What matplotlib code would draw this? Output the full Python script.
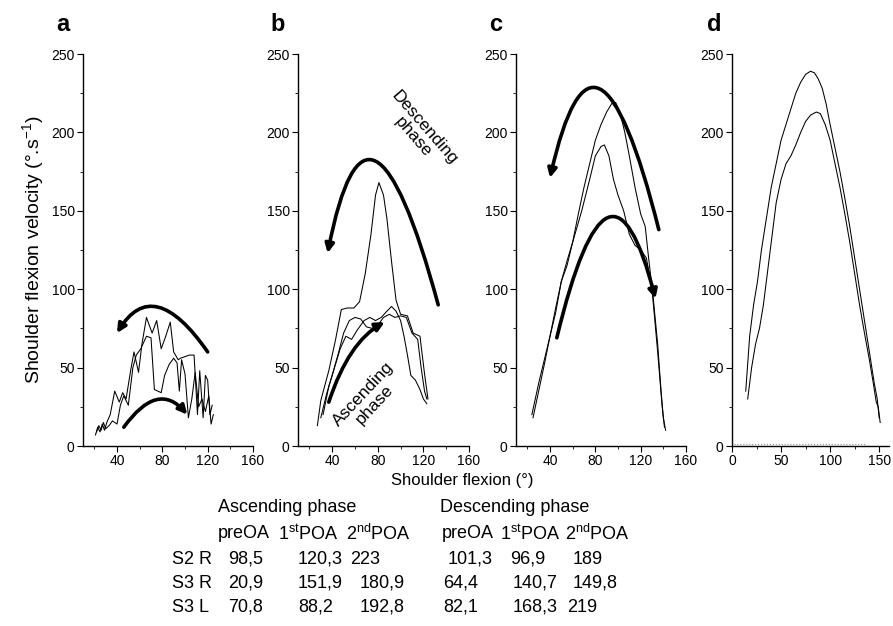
import numpy as np
import matplotlib
matplotlib.use('Agg')
import matplotlib.pyplot as plt
from matplotlib.path import Path
from matplotlib.patches import FancyArrowPatch
from matplotlib.ticker import MultipleLocator

plt.rcParams['font.family'] = ['Liberation Sans', 'DejaVu Sans']
plt.rcParams['mathtext.fontset'] = 'custom'
plt.rcParams['mathtext.rm'] = 'Liberation Sans'
plt.rcParams['mathtext.it'] = 'Liberation Sans:italic'
plt.rcParams['mathtext.bf'] = 'Liberation Sans:bold'

# ---- panel a: noisy curves (shoulder flexion, velocity) ----
a1_x = [21, 23, 25, 27, 29, 31, 34, 38, 42, 45, 48, 52, 55, 59, 62, 66, 71, 75, 79, 83,
        87, 90, 94, 96, 100, 104, 108, 111, 113, 116, 118, 120, 122, 124]
a1_y = [7, 12, 9, 14, 10, 15, 20, 35, 28, 34, 30, 48, 60, 47, 65, 82, 72, 80, 62, 70,
        79, 60, 55, 56, 57, 58, 58, 20, 48, 18, 45, 42, 20, 26]
a2_x = [22, 24, 26, 28, 30, 33, 36, 40, 43, 46, 50, 54, 57, 61, 66, 70, 73, 76, 79, 82,
        86, 90, 93, 95, 97, 100, 103, 106, 109, 112, 115, 118, 121, 123, 125]
a2_y = [9, 13, 10, 15, 11, 13, 16, 14, 26, 32, 26, 50, 58, 62, 70, 69, 36, 35, 34, 45,
        52, 56, 53, 35, 55, 46, 18, 30, 47, 25, 30, 22, 32, 14, 20]

# ---- panel b ----
b1_x = [27, 30, 37, 43, 48, 53, 59, 64, 69, 74, 78, 81, 85, 88, 92, 96, 100, 106, 111, 117, 121, 124]
b1_y = [13, 29, 48, 68, 87, 88, 88, 92, 110, 135, 160, 168, 160, 145, 118, 93, 84, 83, 72, 70, 46, 30]
b2_x = [32, 37, 42, 47, 52, 57, 62, 68, 73, 78, 83, 88, 92, 96, 100, 103, 106, 109, 113, 117, 120, 123]
b2_y = [20, 38, 50, 62, 70, 68, 74, 80, 82, 80, 82, 86, 89, 86, 80, 70, 58, 45, 42, 36, 30, 27]
b3_x = [30, 35, 40, 45, 50, 55, 60, 65, 70, 75, 80, 85, 90, 95, 100, 105, 110, 115, 118, 121, 123]
b3_y = [18, 33, 45, 58, 72, 80, 82, 81, 76, 75, 77, 82, 84, 82, 83, 82, 72, 68, 50, 35, 30]

# ---- panel c ----
c1_x = [24, 30, 36, 40, 45, 50, 55, 60, 65, 70, 75, 80, 85, 90, 95, 98, 102, 106, 110,
        115, 120, 124, 127, 131, 135, 138, 140, 142]
c1_y = [20, 40, 58, 70, 85, 105, 115, 130, 148, 165, 180, 195, 205, 213, 219, 219, 212, 200, 185,
        165, 148, 140, 120, 95, 65, 35, 18, 10]
c2_x = [25, 30, 35, 40, 45, 50, 55, 60, 68, 75, 80, 85, 88, 92, 96, 100, 105, 110, 115,
        120, 125, 130, 135, 139, 141]
c2_y = [18, 35, 52, 70, 88, 105, 118, 130, 150, 170, 185, 191, 192, 185, 170, 160, 150, 135, 128,
        125, 120, 100, 60, 25, 12]

# ---- panel d ----
d1_x = [14, 18, 22, 26, 30, 35, 40, 45, 50, 55, 60, 65, 70, 75, 80, 84, 88, 92, 96, 100,
        105, 110, 115, 120, 125, 130, 135, 140, 145, 148, 150]
d1_y = [35, 70, 90, 105, 125, 145, 165, 180, 195, 205, 215, 225, 232, 237, 239, 238, 234, 228, 218, 205,
        190, 175, 158, 140, 120, 100, 80, 60, 40, 30, 18]
d2_x = [16, 20, 24, 28, 32, 36, 40, 45, 50, 55, 60, 65, 70, 75, 80, 86, 90, 95, 100, 105,
        110, 115, 120, 125, 130, 135, 140, 144, 147, 149, 151]
d2_y = [30, 50, 65, 75, 90, 110, 130, 155, 170, 180, 185, 192, 200, 207, 211, 213, 212, 205, 195, 180,
        165, 148, 130, 110, 90, 72, 55, 40, 28, 25, 15]

# thick phase arrows: (start, apex, end), head drawn at end
arrows_a = [((120, 60), (76, 88), (40, 72)), ((46, 12), (75, 29), (102, 20))]
arrows_b = [((133, 90), (78, 181), (36, 123)), ((37, 28), (58, 60), (86, 79))]
arrows_c = [((136, 138), (84, 227), (40, 171)), ((46, 69), (91, 145), (133, 94))]

# table below panels
col_groups = ['Ascending phase', 'Descending phase']
col_heads = ['preOA', '1$^{\\rm st}$POA', '2$^{\\rm nd}$POA'] * 2
row_names = ['S2 R', 'S3 R', 'S3 L']
table_vals = [['98,5', '120,3', '223', '101,3', '96,9', '189'],
              ['20,9', '151,9', '180,9', '64,4', '140,7', '149,8'],
              ['70,8', '88,2', '192,8', '82,1', '168,3', '219']]

# table layout (pixels)
group_x = [218, 440]
head_x = [218, 278, 346, 442, 500, 565]
cell_x = [[228, 298, 350, 448, 510, 573],
          [228, 298, 360, 443, 513, 573],
          [228, 298, 360, 443, 513, 567]]
name_x = 172
group_y, head_y, row_y = 508, 534, [559, 583, 607]

W, H = 893, 626
fig = plt.figure(figsize=(W / 100, H / 100), dpi=100)


def px_axes(x0, x1, y0=54, y1=446):
    return fig.add_axes([x0 / W, 1 - y1 / H, (x1 - x0) / W, (y1 - y0) / H])


def px_text(x, y, s, **kw):
    fig.text(x / W, 1 - y / H, s, va='center', **kw)


def draw_arrow(ax, start, apex, end):
    s, m, e = np.array(start, float), np.array(apex, float), np.array(end, float)
    ctrl = 2 * m - 0.5 * (s + e)
    path = Path([s, ctrl, e], [Path.MOVETO, Path.CURVE3, Path.CURVE3])
    ax.add_patch(FancyArrowPatch(path=path, arrowstyle='-|>', mutation_scale=13,
                                 lw=2.6, color='black', transform=ax.transData))


def style(ax, xlim, xmajor, xminor, letter):
    ax.set_xlim(*xlim)
    ax.set_ylim(0, 250)
    ax.xaxis.set_major_locator(MultipleLocator(xmajor))
    ax.xaxis.set_minor_locator(MultipleLocator(xminor))
    ax.yaxis.set_major_locator(MultipleLocator(50))
    ax.yaxis.set_minor_locator(MultipleLocator(25))
    for s in ['top', 'right']:
        ax.spines[s].set_visible(False)
    for s in ['left', 'bottom']:
        ax.spines[s].set_linewidth(1.0)
    ax.tick_params(which='major', length=4, width=0.8, labelsize=10, pad=2)
    ax.tick_params(which='minor', length=2, width=0.6)
    ax.text(-0.16, 1.075, letter, transform=ax.transAxes, fontsize=17,
            fontweight='bold', ha='left', va='center')


thin = dict(color='black', lw=0.75)

ax_a = px_axes(83, 253)
ax_a.plot(a1_x, a1_y, **thin)
ax_a.plot(a2_x, a2_y, **thin)
for arr in arrows_a:
    draw_arrow(ax_a, *arr)
style(ax_a, (10, 160), 40, 20, 'a')
ax_a.set_ylabel('Shoulder flexion velocity (°.s$^{-1}$)', fontsize=14, labelpad=4)

ax_b = px_axes(298, 469)
for xs, ys in [(b1_x, b1_y), (b2_x, b2_y), (b3_x, b3_y)]:
    ax_b.plot(xs, ys, **thin)
for arr in arrows_b:
    draw_arrow(ax_b, *arr)
ax_b.text(116, 200, 'Descending\nphase', rotation=-49, rotation_mode='anchor',
          ha='center', va='center', fontsize=12.5, linespacing=1.0)
ax_b.text(72, 30, 'Ascending\nphase', rotation=47, rotation_mode='anchor',
          ha='center', va='center', fontsize=12.5, linespacing=1.0)
style(ax_b, (10, 160), 40, 20, 'b')

ax_c = px_axes(516, 686)
ax_c.plot(c1_x, c1_y, **thin)
ax_c.plot(c2_x, c2_y, **thin)
for arr in arrows_c:
    draw_arrow(ax_c, *arr)
style(ax_c, (10, 160), 40, 20, 'c')

ax_d = px_axes(732, 889)
ax_d.plot(d1_x, d1_y, **thin)
ax_d.plot(d2_x, d2_y, **thin)
ax_d.hlines(1.5, 2, 136, colors='0.55', linestyles=':', lw=0.8)
style(ax_d, (0, 160), 50, 25, 'd')

fig.text(462 / W, 1 - 481 / H, 'Shoulder flexion (°)', fontsize=12, ha='center', va='center')

# table
fs = 13
for gx, g in zip(group_x, col_groups):
    px_text(gx, group_y, g, fontsize=fs)
for hx, h in zip(head_x, col_heads):
    px_text(hx, head_y, h, fontsize=fs)
for ry, xs, name, vals in zip(row_y, cell_x, row_names, table_vals):
    px_text(name_x, ry, name, fontsize=fs)
    for vx, v in zip(xs, vals):
        px_text(vx, ry, v, fontsize=fs)

fig.savefig('out.png', dpi=100)
